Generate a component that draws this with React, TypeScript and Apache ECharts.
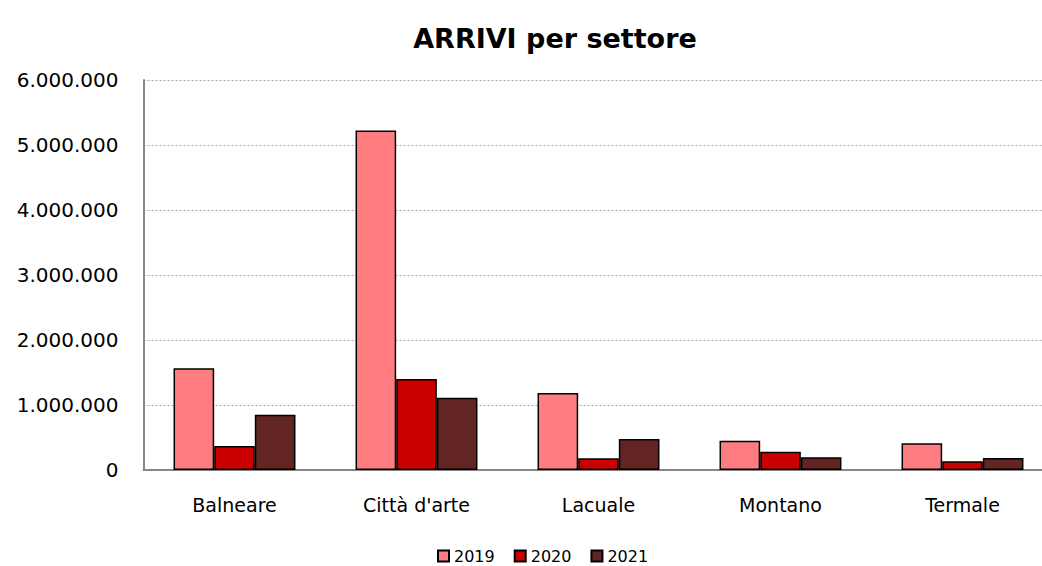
import React, { useEffect, useRef } from "react";
import * as echarts from "echarts";

const categories = ["Balneare", "Città d'arte", "Lacuale", "Montano", "Termale"];
const seriesNames = ["2019", "2020", "2021"];
const values2019 = [1565000, 5225000, 1185000, 450000, 410000];
const values2020 = [370000, 1400000, 180000, 280000, 134000];
const values2021 = [850000, 1110000, 477000, 195000, 185000];
const colors = ["#FF7C80", "#CC0000", "#632523"];
const yTicks = [0, 1000000, 2000000, 3000000, 4000000, 5000000, 6000000];

const fmt = (v: number) => String(Math.round(v)).replace(/\B(?=(\d{3})+(?!\d))/g, ".");

export default function App() {
  const ref = useRef<HTMLDivElement>(null);
  useEffect(() => {
    document.body.style.margin = "0";
    document.body.style.overflow = "hidden";
    document.documentElement.style.overflow = "hidden";
    const chart = echarts.init(ref.current!, undefined, { renderer: "svg" });
    const font = "DejaVu Sans";
    const data = [values2019, values2020, values2021];
    chart.setOption({
      animation: false,
      backgroundColor: "#ffffff",
      title: {
        text: "ARRIVI per settore",
        left: 550,
        top: 20,
        textAlign: "center",
        textStyle: { fontFamily: font, fontSize: 27, fontWeight: "bold", color: "#000000" },
      },
      legend: {
        data: seriesNames,
        left: 432,
        top: 543,
        itemWidth: 11,
        itemHeight: 11,
        itemGap: 19,
        icon: "rect",
        textStyle: { fontFamily: font, fontSize: 16, color: "#000000" },
      },
      grid: { left: 143.5, top: 80, width: 910, height: 390, containLabel: false },
      xAxis: {
        type: "category",
        data: categories,
        axisLine: { lineStyle: { color: "#878787", width: 2 } },
        axisTick: { show: false },
        axisLabel: { fontFamily: font, fontSize: 19, color: "#000000", margin: 25 },
      },
      yAxis: {
        type: "value",
        min: yTicks[0],
        max: yTicks[yTicks.length - 1],
        interval: 1000000,
        axisLine: { show: true, lineStyle: { color: "#878787", width: 2 } },
        axisTick: { show: false },
        axisLabel: {
          fontFamily: font,
          fontSize: 20,
          color: "#000000",
          margin: 25,
          formatter: (v: number) => fmt(v),
        },
        splitLine: { lineStyle: { color: "#A6A6A6", type: [2, 2], width: 1.2 } },
      },
      series: seriesNames.map((name, i) => ({
        name,
        type: "bar",
        data: data[i],
        barGap: "0%",
        barCategoryGap: "33%",
        itemStyle: { color: colors[i], borderColor: "#000000", borderWidth: 1.5 },
      })),
    });
    return () => chart.dispose();
  }, []);
  return <div ref={ref} style={{ width: 1060, height: 566 }} />;
}
